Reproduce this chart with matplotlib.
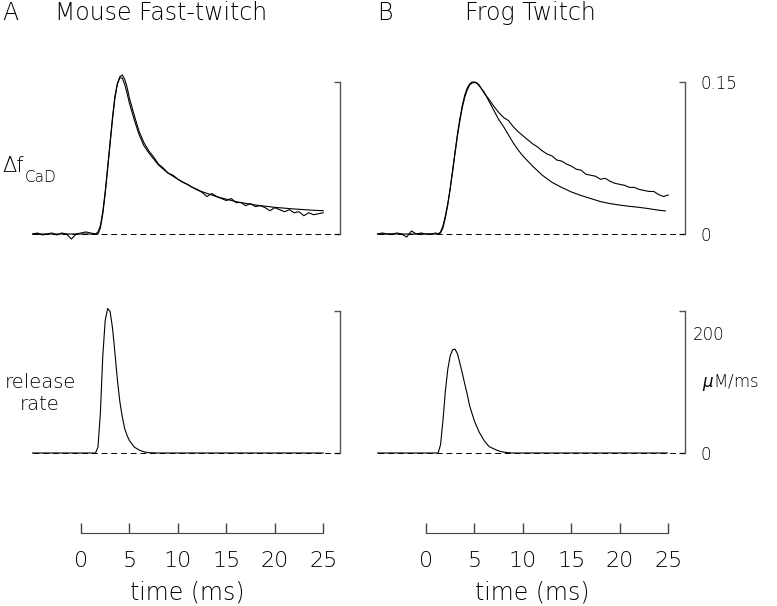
"""Ca transient (delta f_CaD) and release rate, mouse fast-twitch vs frog twitch."""
import matplotlib
matplotlib.use("Agg")
import matplotlib.pyplot as plt

plt.rcParams["font.family"] = ["DejaVu Sans"]
plt.rcParams["font.weight"] = "light"
plt.rcParams["axes.labelweight"] = "light"

# ---- data ----
# Mouse fast-twitch, delta f_CaD: model and measured
a_fit_t = [-5, 1.5, 1.75, 2.0, 2.25, 2.5, 2.75, 3.0, 3.25, 3.5, 3.75, 4.0, 4.25, 4.5,
           4.75, 5.0, 5.5, 6.0, 6.5, 7.0, 8.0, 9.0, 10, 12, 14, 16, 18, 20, 22, 24, 25]
a_fit_v = [0, 0, 0.002, 0.008, 0.022, 0.042, 0.066, 0.090, 0.115, 0.136, 0.148, 0.154,
           0.154, 0.148, 0.139, 0.129, 0.1125, 0.098, 0.087, 0.080, 0.068, 0.060, 0.054,
           0.0434, 0.0368, 0.0319, 0.0286, 0.0263, 0.0247, 0.0234, 0.023]
a_dat_t = [-5, -4.5, -4, -3.5, -3, -2.5, -2, -1.5, -1, -0.5, 0, 0.5, 1, 1.5, 1.75,
           2.0, 2.25, 2.5, 2.75, 3.0, 3.25, 3.5, 3.75, 4.0, 4.25, 4.5, 4.75, 5.0, 5.5,
           6.0, 6.5, 7.0, 7.5, 8.0, 8.5, 9.0, 9.5, 10, 10.5, 11, 11.5, 12, 12.5, 13,
           13.5, 14, 14.5, 15, 15.5, 16, 16.5, 17, 17.5, 18, 18.5, 19, 19.5, 20, 20.5,
           21, 21.5, 22, 22.5, 23, 23.5, 24, 24.5, 25]
a_dat_v = [0.000, 0.001, -0.001, 0.000, 0.001, -0.001, 0.001, 0.000, -0.005, 0.000,
           0.001, 0.002, 0.001, 0.000, 0.000,
           0.006, 0.020, 0.040, 0.064, 0.089, 0.113, 0.134, 0.148, 0.155, 0.157, 0.153,
           0.145, 0.134, 0.117, 0.101, 0.090, 0.082, 0.076, 0.069, 0.065, 0.060, 0.058,
           0.054, 0.051, 0.049, 0.046, 0.044, 0.041, 0.037, 0.040, 0.037, 0.035, 0.033,
           0.035, 0.031, 0.031, 0.028, 0.030, 0.027, 0.028, 0.026, 0.023, 0.026, 0.024,
           0.022, 0.024, 0.021, 0.022, 0.018, 0.021, 0.019, 0.020, 0.021]

# Frog twitch, delta f_CaD: model (lower tail) and measured (upper tail)
b_fit_t = [-5, 1.25, 1.5, 1.75, 2.0, 2.25, 2.5, 2.75, 3.0, 3.25, 3.5, 3.75, 4.0, 4.25,
           4.5, 4.75, 5.0, 5.25, 5.5, 6.0, 6.5, 7.0, 7.5, 8.0, 8.5, 9.0, 9.5, 10, 11,
           12, 13, 14, 15, 16, 17, 18, 19, 20, 21, 22, 23, 24, 24.7]
b_fit_v = [0, 0, 0.002, 0.008, 0.018, 0.030, 0.045, 0.062, 0.080, 0.097, 0.112, 0.125,
           0.135, 0.142, 0.147, 0.149, 0.1495, 0.149, 0.146, 0.140, 0.131, 0.122, 0.113,
           0.106, 0.098, 0.090, 0.083, 0.077, 0.067, 0.058, 0.051, 0.046, 0.0415, 0.038,
           0.035, 0.032, 0.030, 0.0285, 0.0273, 0.0263, 0.025, 0.0235, 0.0228]
b_dat_t = [-5, -4.5, -4, -3.5, -3, -2.5, -2, -1.5, -1, -0.5, 0, 0.5, 1.0, 1.25, 1.5,
           1.75, 2.0, 2.25, 2.5, 2.75, 3.0, 3.25, 3.5, 3.75, 4.0, 4.25, 4.5, 4.75, 5.0,
           5.25, 5.5, 6.0, 6.5, 7.0, 7.5, 8.0, 8.5, 9.0, 9.5, 10, 10.5, 11, 11.5, 12,
           12.5, 13, 13.5, 14, 14.5, 15, 15.5, 16, 16.5, 17, 17.5, 18, 18.5, 19, 19.5,
           20, 20.5, 21, 21.5, 22, 22.5, 23, 23.5, 24, 24.5, 25]
b_dat_v = [0.000, 0.001, 0.000, 0.000, 0.001, 0.000, -0.003, 0.003, 0.000, 0.001,
           0.000, 0.000, 0.001, 0.000, 0.001, 0.006, 0.016, 0.029, 0.045, 0.063, 0.081,
           0.099, 0.114, 0.127, 0.137, 0.144, 0.148, 0.150, 0.150, 0.149, 0.147, 0.139,
           0.133, 0.126, 0.120, 0.115, 0.112, 0.106, 0.101, 0.097, 0.093, 0.089, 0.086,
           0.082, 0.079, 0.077, 0.073, 0.072, 0.069, 0.067, 0.064, 0.063, 0.059, 0.058,
           0.057, 0.054, 0.055, 0.052, 0.050, 0.049, 0.048, 0.046, 0.046, 0.044, 0.043,
           0.042, 0.042, 0.039, 0.037, 0.0385]

# release rate (uM/ms)
a_rel_t = [-5, 1.5, 1.75, 2.0, 2.25, 2.5, 2.75, 3.0, 3.25, 3.5, 3.75, 4.0, 4.25, 4.5,
           4.75, 5.0, 5.5, 6.0, 6.5, 7.0, 8.0, 25]
a_rel_v = [0, 0, 10, 68, 165, 225, 245, 240, 212, 170, 125, 88, 62, 42, 30, 21, 10, 5,
           2, 0.5, 0, 0]
b_rel_t = [-5, 1.25, 1.5, 1.75, 2.0, 2.25, 2.5, 2.75, 3.0, 3.25, 3.5, 3.75, 4.0, 4.25,
           4.5, 4.75, 5.0, 5.5, 6.0, 6.5, 7.0, 7.5, 8.0, 8.5, 9.0, 24.9]
b_rel_v = [0, 0, 14, 55, 105, 142, 165, 175, 176, 168, 152, 135, 117, 100, 80, 67, 54,
           35, 21, 11, 7, 3.5, 1.5, 0.5, 0, 0]

time_ticks = [0, 5, 10, 15, 20, 25]
caf_scale = [0, 0.15]
rel_scale = [0, 240]
bar_t = 26.7          # time where the scale bars stand
base_end = [-5, bar_t]

# ---- layout (pixels of a 777x606 canvas) ----
W, H = 777, 606
fig = plt.figure(figsize=(W / 100, H / 100), dpi=100)
PPMS = 9.69           # pixels per ms
XLIM = (-5.5, 27.5)


def px_axes(x0, x1, y0, y1):
    return fig.add_axes([x0 / W, 1 - y1 / H, (x1 - x0) / W, (y1 - y0) / H])


def bare(ax):
    for s in ["top", "left", "bottom", "right"]:
        ax.spines[s].set_visible(False)
    ax.set_xticks([])
    ax.set_yticks([])
    ax.patch.set_visible(False)


def scale_bar(ax, bounds, labels):
    ax.spines["right"].set_visible(True)
    ax.spines["right"].set_position(("data", bar_t))
    ax.spines["right"].set_bounds(*bounds)
    ax.spines["right"].set_color("#555555")
    ax.spines["right"].set_linewidth(1.0)
    ax.yaxis.tick_right()
    ax.set_yticks(bounds, labels)
    ax.tick_params(axis="y", direction="in", length=4, width=1.0, color="#555555",
                   pad=11, labelsize=12)


TRACE = dict(color="black", lw=0.8)
DASH = dict(color="black", lw=0.7, linestyles=(0, (6, 4)))

panels = [
    (81, a_fit_t, a_fit_v, a_dat_t, a_dat_v, a_rel_t, a_rel_v, False),
    (426, b_fit_t, b_fit_v, b_dat_t, b_dat_v, b_rel_t, b_rel_v, True),
]

for t0, ft, fv, dt, dv, rt, rv, show_lab in panels:
    xa, xb = t0 + XLIM[0] * PPMS, t0 + XLIM[1] * PPMS

    # top: delta f_CaD
    ax = px_axes(xa, xb, 234 - 0.17 * 1013.3, 234 + 0.02 * 1013.3)
    bare(ax)
    ax.set_xlim(*XLIM)
    ax.set_ylim(-0.02, 0.17)
    ax.hlines(0, *base_end, **DASH)
    ax.plot(ft, fv, **TRACE)
    ax.plot(dt, dv, **TRACE)
    scale_bar(ax, caf_scale, ["0", "0.15"] if show_lab else ["", ""])

    # bottom: release rate
    ax = px_axes(xa, xb, 453 - 260 * 0.59, 453 + 30 * 0.59)
    bare(ax)
    ax.set_xlim(*XLIM)
    ax.set_ylim(-30, 260)
    ax.hlines(0, *base_end, **DASH)
    ax.plot(rt, rv, **TRACE)
    scale_bar(ax, rel_scale, ["0", ""] if show_lab else ["", ""])
    if show_lab:
        ax.text(1.0, 200, "200", transform=ax.get_yaxis_transform(), fontsize=12,
                va="center", ha="left")
        ax.text(1.0, 120, "  $\\mu$M/ms", transform=ax.get_yaxis_transform(),
                fontsize=12, va="center", ha="left")

    # time axis
    ax = px_axes(xa, xb, 500, 533)
    bare(ax)
    ax.set_xlim(*XLIM)
    ax.spines["bottom"].set_visible(True)
    ax.spines["bottom"].set_bounds(time_ticks[0], time_ticks[-1])
    ax.spines["bottom"].set_color("#444444")
    ax.set_xticks(time_ticks, [str(v) for v in time_ticks])
    ax.tick_params(axis="x", direction="in", length=7, width=1.0, color="#444444",
                   pad=13, labelsize=16)
    ax.set_xlabel("time (ms)", fontsize=17, labelpad=7, fontweight="light")

# labels
fig.text(2 / W, 1 - 13 / H, "A", fontsize=17, va="center", ha="left")
fig.text(55 / W, 1 - 13 / H, "Mouse Fast-twitch", fontsize=17, va="center", ha="left")
fig.text(377 / W, 1 - 13 / H, "B", fontsize=17, va="center", ha="left")
fig.text(465 / W, 1 - 13 / H, "Frog Twitch", fontsize=17, va="center", ha="left")
fig.text(2 / W, 1 - 166 / H, "\u0394f", fontsize=15, va="center", ha="left")
fig.text(25 / W, 1 - 177 / H, "CaD", fontsize=11, va="center", ha="left")
fig.text(40 / W, 1 - 383 / H, "release", fontsize=14, va="center", ha="center")
fig.text(40 / W, 1 - 405 / H, "rate", fontsize=14, va="center", ha="center")

fig.savefig("out.png", dpi=100)
